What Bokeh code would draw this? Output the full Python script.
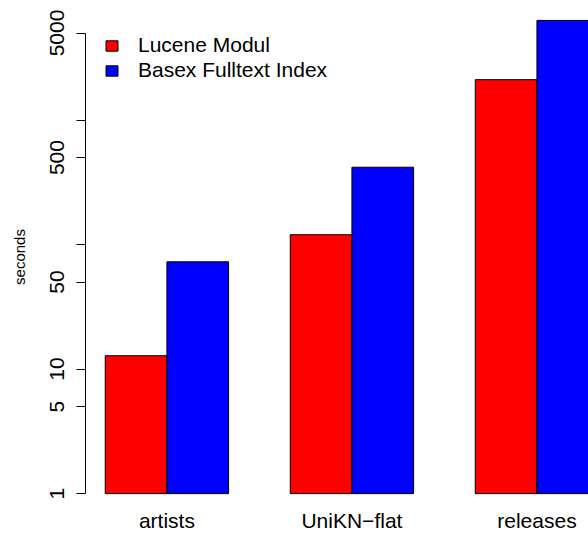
from bokeh.plotting import figure
from bokeh.models import Range1d, FixedTicker, Legend, LegendItem
from bokeh.embed import file_html
from bokeh.resources import INLINE

# Query run times in seconds, per collection
categories = ["artists", "UniKN\u2212flat", "releases"]
lucene = [12.8, 120, 2110]
basex = [72.7, 418, 6310]

y_ticks = [1, 5, 10, 50, 100, 500, 1000, 5000]
y_tick_labels = ["1", "5", "10", "50", "", "500", "", "5000"]

FONT = "Liberation Sans"

# grouped bar positions: each group is two unit-wide bars, one unit gap before it
centers = [2 + 3 * i for i in range(len(categories))]
x_red = [c - 0.5 for c in centers]
x_blue = [c + 0.5 for c in centers]

p = figure(
    width=588, height=534,
    x_range=Range1d(0.68, 8.836),
    y_range=Range1d(0.705, 8954),
    y_axis_type="log",
    output_backend="svg",
    toolbar_location=None,
    min_border_left=85, min_border_right=0,
    min_border_top=1, min_border_bottom=21,
)
p.grid.visible = False
p.outline_line_color = None
p.background_fill_color = "white"
p.border_fill_color = "white"

r1 = p.vbar(x=x_red, top=lucene, bottom=1, width=1.0,
            fill_color="#ff0000", line_color="black", line_width=1)
r2 = p.vbar(x=x_blue, top=basex, bottom=1, width=1.0,
            fill_color="#0000ff", line_color="black", line_width=1)

# y axis: log ticks, line only between first and last tick
ya = p.yaxis[0]
ya.ticker = FixedTicker(ticks=y_ticks)
ya.major_label_overrides = {t: s for t, s in zip(y_ticks, y_tick_labels)}
ya.bounds = (y_ticks[0], y_ticks[-1])
ya.minor_tick_line_color = None
ya.major_tick_out = 9
ya.major_tick_in = 0
ya.major_label_orientation = "vertical"
ya.major_label_standoff = 12
ya.major_label_text_font = FONT
ya.major_label_text_font_size = "21px"
ya.major_label_text_color = "black"
ya.axis_line_color = "black"
ya.major_tick_line_color = "black"
ya.axis_label = "seconds"
ya.axis_label_text_font = FONT
ya.axis_label_text_font_style = "normal"
ya.axis_label_text_font_size = "15px"
ya.axis_label_text_color = "black"
ya.axis_label_standoff = 20

# x axis: category names under each group, no line or ticks
xa = p.xaxis[0]
xa.ticker = FixedTicker(ticks=centers)
xa.major_label_overrides = {c: n for c, n in zip(centers, categories)}
xa.axis_line_color = None
xa.major_tick_line_color = None
xa.minor_tick_line_color = None
xa.major_tick_out = 0
xa.major_tick_in = 0
xa.major_label_standoff = -4
xa.major_label_text_font = FONT
xa.major_label_text_font_size = "21px"
xa.major_label_text_color = "black"

legend = Legend(
    items=[LegendItem(label="Lucene Modul", renderers=[r1]),
           LegendItem(label="Basex Fulltext Index", renderers=[r2])],
    location=(19, 430),
    padding=0, margin=0, spacing=1,
    glyph_width=15, glyph_height=13,
    label_standoff=19,
    label_text_font=FONT, label_text_font_size="21px",
    label_text_color="black",
    border_line_color=None, background_fill_alpha=0,
)
p.add_layout(legend, "center")

open("out.html", "w").write(file_html(p, INLINE))
